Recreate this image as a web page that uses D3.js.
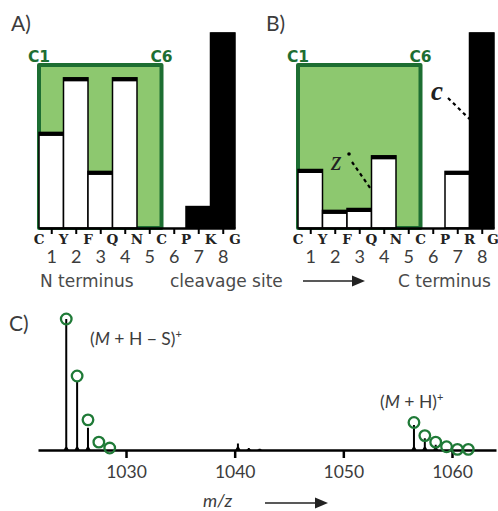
<!DOCTYPE html>
<html><head><meta charset="utf-8">
<script src="https://cdn.jsdelivr.net/npm/d3@7"></script>
<style>
html,body{margin:0;padding:0;background:#fff;}
svg{display:block;}
</style>
</head><body>
<svg id="chart" width="498" height="511"></svg>
<script>
// ---------- DATA ----------
const residuesA = ["C","Y","F","Q","N","C","P","K","G"];
const residuesB = ["C","Y","F","Q","N","C","P","R","G"];
const sites = [1,2,3,4,5,6,7,8];
const valuesA = [49, 77, 29, 77, 0, 0, 11, 100];
const valuesB = [30, 9, 10, 37, 0, 0, 29, 100];
const ionA = ["z","z","z","z","z","z","c","c"];
const ionB = ["z","z","z","z","z","z","z","c"];
const loopStart = 0, loopEnd = 5;   // C1 .. C6 (residue index)
const loopLabels = ["C1","C6"];
const bottomLabels = ["N terminus", "cleavage site", "C terminus"];

const mzTicks = [1030, 1040, 1050, 1060];
const peakMz  = [1024.5, 1025.5, 1026.5, 1040.3, 1041.3, 1042.3, 1056.5, 1057.5, 1058.5];
const peakInt = [100, 52, 17, 5, 1.5, 1, 19, 9, 4];
const isoMz1  = [1024.5, 1025.5, 1026.5, 1027.5, 1028.5];
const isoInt1 = [100, 56.5, 23, 6, 1.5];
const isoMz2  = [1056.5, 1057.5, 1058.5, 1059.5, 1060.5, 1061.5];
const isoInt2 = [21, 11, 6, 2.5, 0.5, 0.5];

// ---------- STYLE ----------
const GREEN_FILL = "#8dc86f";
const GREEN_DARK = "#1d6e32";
const GREEN_CIRC = "#1f7a37";
const TXT = "#3c3c3c";
const SANS = "'Lato','Open Sans',sans-serif";

const svg = d3.select("#chart");

function panel(x0, x1, residues, values, ions, label, labelX) {
  const g = svg.append("g");
  const x = d3.scaleLinear().domain([0, 8]).range([x0, x1]);
  const y = d3.scaleLinear().domain([0, 100]).range([228, 33]);

  g.append("text").attr("x", labelX).attr("y", 31).text(label)
    .attr("font-family", SANS).attr("font-size", 21).attr("fill", TXT);

  // green loop box
  g.append("rect")
    .attr("x", x(loopStart)).attr("y", 65)
    .attr("width", x(loopEnd) - x(loopStart)).attr("height", y(0) - 65)
    .attr("fill", GREEN_FILL).attr("stroke", GREEN_DARK).attr("stroke-width", 4)
    .attr("stroke-linejoin", "round");
  g.selectAll("text.loop").data(loopLabels).join("text").attr("class", "loop")
    .attr("x", (d, i) => x(i === 0 ? loopStart : loopEnd))
    .attr("y", 62).attr("text-anchor", "middle")
    .attr("font-family", "'DejaVu Sans',sans-serif").attr("font-weight", "bold")
    .attr("font-size", 15.5).attr("fill", GREEN_DARK).text(d => d);

  // bars
  const bars = sites.map((s, i) => ({s, v: values[i], ion: ions[i]})).filter(d => d.v > 0);
  g.selectAll("rect.bar").data(bars).join("rect").attr("class", "bar")
    .attr("x", d => x(d.s - 1)).attr("width", d => x(d.s) - x(d.s - 1))
    .attr("y", d => y(d.v)).attr("height", d => y(0) - y(d.v))
    .attr("fill", d => d.ion === "c" ? "#000" : "#fff")
    .attr("stroke", "#000").attr("stroke-width", 1.5);
  g.selectAll("line.top").data(bars).join("line").attr("class", "top")
    .attr("x1", d => x(d.s - 1)).attr("x2", d => x(d.s))
    .attr("y1", d => y(d.v) + 1.5).attr("y2", d => y(d.v) + 1.5)
    .attr("stroke", "#000").attr("stroke-width", 4);

  // axis with cleavage numbers
  const ax = d3.axisBottom(d3.scaleLinear().domain([0, 8]).range([x0, x1]))
    .tickValues(sites.map(s => s - 0.5)).tickFormat(d => d + 0.5)
    .tickSize(6).tickPadding(15).tickSizeOuter(0);
  const axg = g.append("g").attr("transform", `translate(0,${y(0)})`).call(ax);
  axg.select(".domain").attr("stroke", "#000").attr("stroke-width", 2.5);
  axg.selectAll(".tick line").attr("stroke", "#000").attr("stroke-width", 2);
  axg.selectAll(".tick text").attr("font-family", SANS).attr("font-size", 18)
    .attr("fill", TXT).attr("dy", "0.75em");

  // residue letters
  g.selectAll("text.res").data(residues).join("text").attr("class", "res")
    .attr("x", (d, i) => Math.min(x(i), 493)).attr("y", 243.5).attr("text-anchor", "middle")
    .attr("font-family", "'DejaVu Serif',serif").attr("font-weight", "bold")
    .attr("font-size", 13.5).attr("fill", "#222").text(d => d);
  return {x, y, g};
}

const A = panel(39, 235, residuesA, valuesA, ionA, "A)", 11);
const B = panel(298, 494, residuesB, valuesB, ionB, "B)", 266);

// annotations in B
function dashed(x1, y1, x2, y2) {
  svg.append("line").attr("x1", x1).attr("y1", y1).attr("x2", x2).attr("y2", y2)
    .attr("stroke", "#000").attr("stroke-width", 2.2).attr("stroke-dasharray", "3.5,3.5");
}
svg.append("text").attr("x", 331).attr("y", 170).text("z")
  .attr("font-family", "'Liberation Serif',serif").attr("font-style", "italic")
  .attr("font-size", 27).attr("fill", "#222");
svg.append("circle").attr("cx", 349).attr("cy", 154).attr("r", 1.8).attr("fill", "#000");
dashed(352, 162, B.x(3), 190);
svg.append("text").attr("x", 431).attr("y", 100).text("c")
  .attr("font-family", "'Liberation Serif',serif").attr("font-style", "italic")
  .attr("font-weight", "bold").attr("font-size", 27).attr("fill", "#222");
dashed(448, 98, B.x(7), 119);

// bottom labels
const blX = [40, 170, 398];
svg.selectAll("text.bl").data(bottomLabels).join("text").attr("class", "bl")
  .attr("x", (d, i) => blX[i]).attr("y", 287)
  .text(d => d)
  .attr("font-family", "'DejaVu Sans',sans-serif").attr("font-size", 17).attr("fill", "#4a4a4a");
function arrow(x1, x2, yy) {
  svg.append("line").attr("x1", x1).attr("x2", x2 - 10).attr("y1", yy).attr("y2", yy)
    .attr("stroke", "#222").attr("stroke-width", 1.5);
  svg.append("path").attr("d", `M${x2},${yy} L${x2 - 13},${yy - 5.5} L${x2 - 13},${yy + 5.5} Z`)
    .attr("fill", "#222");
}
arrow(303, 365, 281);

// ---------- PANEL C ----------
svg.append("text").attr("x", 9).attr("y", 331).text("C)")
  .attr("font-family", SANS).attr("font-size", 21).attr("fill", TXT);

const xC = d3.scaleLinear().domain([1021.9, 1064.05]).range([38, 496]);
const yC = d3.scaleLinear().domain([0, 100]).range([450, 319]);

const axC = d3.axisBottom(xC).tickValues(mzTicks).tickFormat(d3.format("d"))
  .tickSize(8).tickPadding(8).tickSizeOuter(0);
const gC = svg.append("g").attr("transform", `translate(0,${yC(0)})`).call(axC);
gC.select(".domain").attr("stroke", "#000").attr("stroke-width", 2.5);
gC.selectAll(".tick line").attr("stroke", "#000").attr("stroke-width", 2.5);
gC.selectAll(".tick text").attr("font-family", SANS).attr("font-size", 17.5).attr("fill", TXT);

// peaks
const peaks = peakMz.map((m, i) => ({m, v: peakInt[i]}));
svg.selectAll("path.peak").data(peaks).join("path").attr("class", "peak")
  .attr("d", d => {
    const px = xC(d.m), y0 = yC(0), yt = yC(d.v);
    const b = Math.min(3, (y0 - yt) / 2);
    return `M${px - 2.6},${y0} L${px - 1},${y0 - b} L${px - 1},${yt} L${px + 1},${yt} L${px + 1},${y0 - b} L${px + 2.6},${y0} Z`;
  })
  .attr("fill", "#000");

// isotope circles
const iso = isoMz1.map((m, i) => ({m, v: isoInt1[i]}))
  .concat(isoMz2.map((m, i) => ({m, v: isoInt2[i]})));
svg.selectAll("circle.iso").data(iso).join("circle").attr("class", "iso")
  .attr("cx", d => xC(d.m)).attr("cy", d => yC(d.v)).attr("r", 5.3)
  .attr("fill", "none").attr("stroke", GREEN_CIRC).attr("stroke-width", 2.3);

// ion labels
function ionLabel(x, yy, parts) {
  const t = svg.append("text").attr("x", x).attr("y", yy)
    .attr("font-family", SANS).attr("font-size", 17.5).attr("fill", TXT);
  parts.forEach(p => {
    const s = t.append("tspan").text(p.t);
    if (p.i) s.attr("font-style", "italic");
    if (p.sup) s.attr("font-size", 11).attr("baseline-shift", "7");
  });
}
ionLabel(90, 345, [{t: "("}, {t: "M", i: true}, {t: " + H \u2212 S)"}, {t: "+", sup: true}]);
ionLabel(380, 408, [{t: "("}, {t: "M", i: true}, {t: " + H)"}, {t: "+", sup: true}]);

svg.append("text").attr("x", 203).attr("y", 507).text("m/z")
  .attr("font-family", SANS).attr("font-style", "italic").attr("font-size", 18).attr("fill", TXT);
arrow(265, 328, 503);
</script>
</body></html>
